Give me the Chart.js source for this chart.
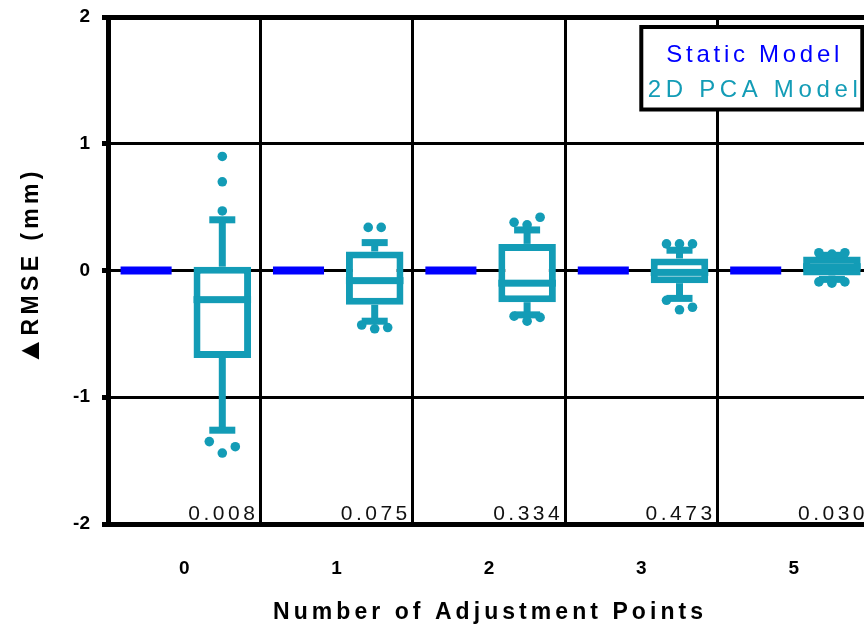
<!DOCTYPE html>
<html>
<head>
<meta charset="utf-8">
<script src="https://cdn.jsdelivr.net/npm/chart.js@4.4.0/dist/chart.umd.min.js"></script>
<style>
  html, body { margin: 0; padding: 0; overflow: hidden; background: #fff; }
  #wrap { width: 880px; height: 626px; }
</style>
</head>
<body>
<div id="wrap"><canvas id="c" width="880" height="626"></canvas></div>
<script>
// Number of adjustment points (categories)
const categories = ['0', '1', '2', '3', '5'];
// Static model: change in RMSE (mm)
const staticModel = [0, 0, 0, 0, 0];
// 2D PCA model box-plot statistics (mm)
const pcaQ1 = [-0.69, -0.27, -0.25, -0.10, -0.04];
const pcaQ3 = [0.03, 0.15, 0.21, 0.095, 0.11];
const pcaMedian = [-0.23, -0.08, -0.10, -0.015, 0.03];
const pcaWhiskerLow = [-1.26, -0.40, -0.35, -0.22, -0.07];
const pcaWhiskerHigh = [0.40, 0.22, 0.32, 0.16, 0.12];
const pcaOutliers = [
  [0.90, 0.70, 0.47, -1.35, -1.44, -1.39],
  [0.34, 0.34, -0.43, -0.46, -0.45],
  [0.38, 0.36, 0.42, -0.36, -0.40, -0.37],
  [0.21, 0.21, 0.21, -0.235, -0.31, -0.29],
  [0.14, 0.13, 0.14, -0.09, -0.10, -0.09]
];
// p-values printed in each cell
const pValues = ['0.008', '0.075', '0.334', '0.473', '0.030'];
const yTicks = [-2, -1, 0, 1, 2];

const BLUE = '#0000ff';
const TEAL = '#139cb6';
const FONT = "'Liberation Sans', Arial, Helvetica, sans-serif";
const NARROW = "'Liberation Sans Narrow', 'Liberation Sans', Arial, sans-serif";

// draw text spread out to a given overall width
function spacedText(ctx, text, cx, cy, width) {
  ctx.letterSpacing = '0px';
  const base = ctx.measureText(text).width;
  const gap = Math.max(0, (width - base) / (text.length - 1));
  ctx.letterSpacing = gap + 'px';
  ctx.textAlign = 'left';
  ctx.fillText(text, cx - width / 2, cy);
}

const boxExtras = {
  id: 'boxExtras',
  afterDatasetsDraw(chart) {
    const { ctx, scales: { y } } = chart;
    const sMeta = chart.getDatasetMeta(0);
    const pMeta = chart.getDatasetMeta(1);
    ctx.save();

    // Static model: thick horizontal dash at its value
    ctx.fillStyle = BLUE;
    sMeta.data.forEach((el, i) => {
      const py = y.getPixelForValue(staticModel[i]);
      ctx.fillRect(el.x - el.width / 2, py - 4, el.width, 8);
    });

    // PCA model: whiskers, caps, median and outliers
    pMeta.data.forEach((el, i) => {
      const cx = el.x, w = el.width;
      const yHi = y.getPixelForValue(pcaWhiskerHigh[i]);
      const yLo = y.getPixelForValue(pcaWhiskerLow[i]);
      const yQ3 = y.getPixelForValue(pcaQ3[i]);
      const yQ1 = y.getPixelForValue(pcaQ1[i]);
      const yMed = y.getPixelForValue(pcaMedian[i]);
      ctx.fillStyle = TEAL;
      if (yQ3 > yHi) ctx.fillRect(cx - 3.5, yHi, 7, yQ3 - yHi);
      if (yLo > yQ1) ctx.fillRect(cx - 3.5, yQ1, 7, yLo - yQ1);
      ctx.fillRect(cx - 13, yHi - 3.5, 26, 7);
      ctx.fillRect(cx - 13, yLo - 3.5, 26, 7);
      ctx.fillRect(cx - w / 2, yMed - 3.5, w, 7);

      const hi = pcaOutliers[i].filter(v => v > pcaQ3[i]);
      const lo = pcaOutliers[i].filter(v => v < pcaQ1[i]);
      [hi, lo].forEach(group => {
        if (!group.length) return;
        const px = group.map(v => y.getPixelForValue(v));
        const spread = Math.max(...px) - Math.min(...px);
        const step = spread < 30 ? 13 : 0;   // spread crowded points sideways
        group.forEach((v, k) => {
          const ox = (k - (group.length - 1) / 2) * step;
          ctx.beginPath();
          ctx.arc(cx + ox, px[k], 4.8, 0, Math.PI * 2);
          ctx.fill();
        });
      });
    });
    ctx.restore();
  },
  afterDraw(chart) {
    const { ctx, scales: { x }, chartArea } = chart;
    ctx.save();

    // p-values, bottom right of each cell
    const cell = (chartArea.right - chartArea.left) / categories.length;
    ctx.fillStyle = '#111';
    ctx.font = '21px ' + FONT;
    ctx.letterSpacing = '3.5px';
    ctx.textAlign = 'right';
    ctx.textBaseline = 'alphabetic';
    pValues.forEach((p, i) => {
      const right = x.getPixelForValue(i) + cell / 2;
      ctx.fillText(p, right - 2, chartArea.bottom - 4);
    });

    // Legend box
    const lx = 641.3, ly = 27, lw = 221, lh = 82.5;
    ctx.fillStyle = '#fff';
    ctx.fillRect(lx, ly, lw, lh);
    ctx.strokeStyle = '#000';
    ctx.lineWidth = 4;
    ctx.strokeRect(lx, ly, lw, lh);
    ctx.font = '24px ' + FONT;
    ctx.fillStyle = BLUE;
    spacedText(ctx, 'Static Model', lx + lw / 2 + 1, 62, 173);
    ctx.fillStyle = TEAL;
    spacedText(ctx, '2D PCA Model', lx + lw / 2 + 1, 97, 210);

    // Axis titles
    ctx.fillStyle = '#000';
    ctx.font = 'bold 23px ' + NARROW;
    spacedText(ctx, 'Number of Adjustment Points', 488, 619, 430);

    ctx.translate(38, 268.5);
    ctx.rotate(-Math.PI / 2);
    ctx.letterSpacing = '0px';
    ctx.textAlign = 'left';
    ctx.font = 'bold 30px ' + FONT;
    ctx.fillText('\u25B2', -97, 1);
    ctx.font = 'bold 23px ' + NARROW;
    spacedText(ctx, 'RMSE (mm)', 15, 0, 164);
    ctx.restore();
  }
};

new Chart(document.getElementById('c'), {
  type: 'bar',
  data: {
    labels: categories,
    datasets: [
      {
        label: 'Static Model',
        data: staticModel,
        backgroundColor: 'rgba(0,0,0,0)',
        borderWidth: 0,
        barPercentage: 0.67,
        categoryPercentage: 1
      },
      {
        label: '2D PCA Model',
        data: categories.map((_, i) => [pcaQ1[i], pcaQ3[i]]),
        backgroundColor: '#fff',
        borderColor: TEAL,
        borderWidth: 7,
        borderSkipped: false,
        barPercentage: 0.755,
        categoryPercentage: 1
      }
    ]
  },
  options: {
    responsive: false,
    animation: false,
    events: [],
    layout: { padding: { left: 0, right: 10, top: 17, bottom: 0 } },
    plugins: { legend: { display: false }, tooltip: { enabled: false } },
    scales: {
      x: {
        grid: { color: '#000', lineWidth: 3, drawTicks: false, offset: true },
        border: { color: '#000', width: 5 },
        ticks: { color: '#000', font: { family: FONT, weight: 'bold', size: 19 }, padding: 33 },
        afterFit(s) { s.height = 102; s.paddingLeft = 0; s.paddingRight = 0; }
      },
      y: {
        min: -2,
        max: 2,
        afterBuildTicks(s) { s.ticks = yTicks.map(v => ({ value: v })); },
        grid: {
          color: '#000',
          lineWidth: c => (c.tick && c.tick.value === 2 ? 5 : 3),
          tickLength: 6,
          tickWidth: 5,
          tickColor: '#000'
        },
        border: { color: '#000', width: 5 },
        ticks: { color: '#000', font: { family: FONT, weight: 'bold', size: 19 }, padding: 12 },
        afterFit(s) { s.width = 108; s.paddingTop = 0; s.paddingBottom = 0; }
      }
    }
  },
  plugins: [boxExtras]
});
</script>
</body>
</html>
